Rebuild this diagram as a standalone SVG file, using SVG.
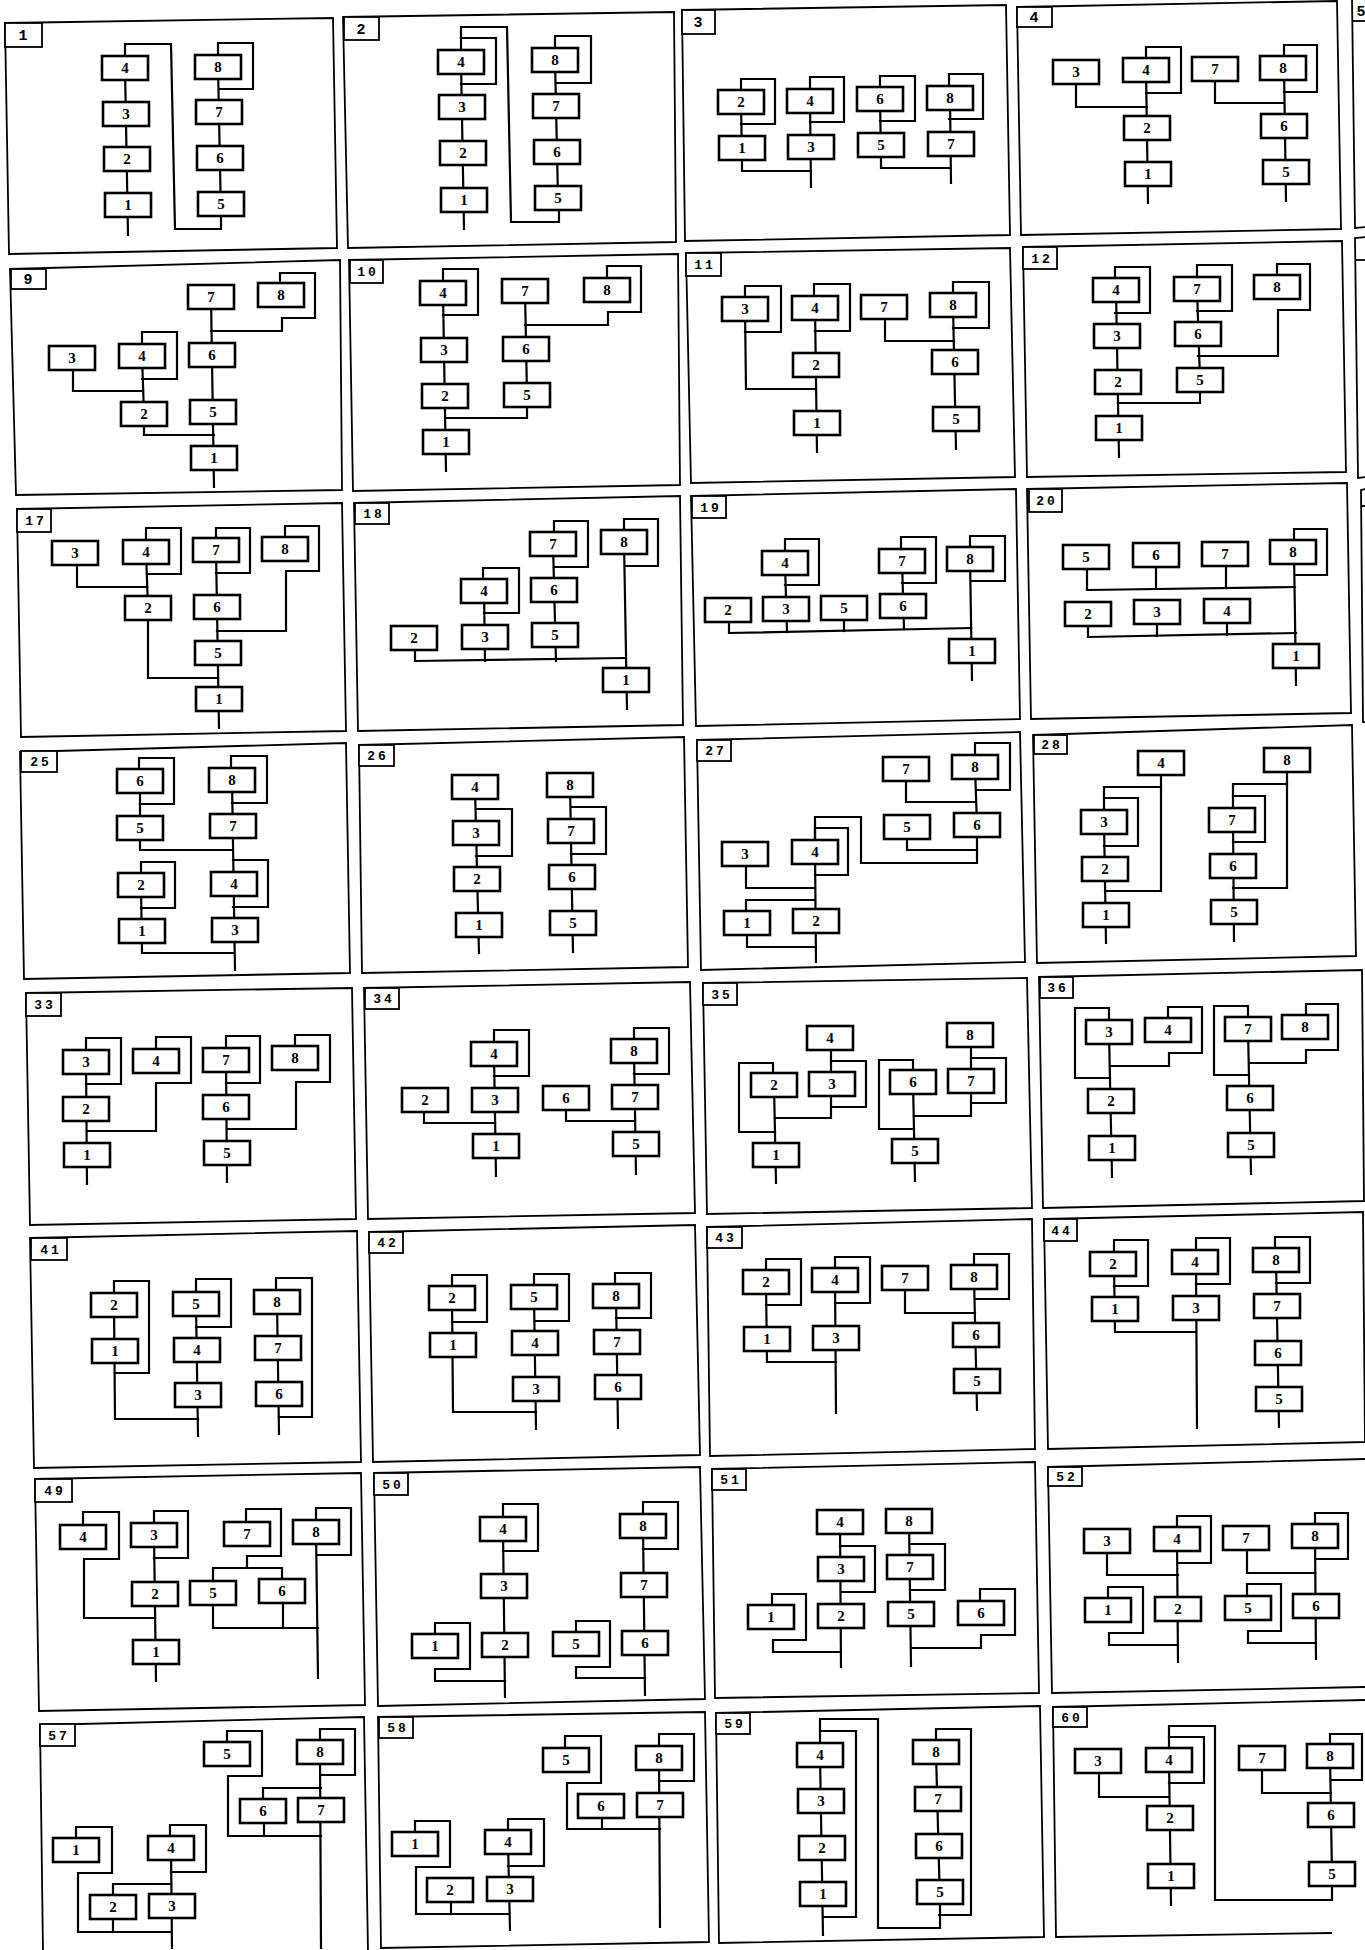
<svg xmlns="http://www.w3.org/2000/svg" xmlns:xlink="http://www.w3.org/1999/xlink" width="1365" height="1950" viewBox="0 0 1365 1950">
<style>
.fr{fill:none;stroke:#000;stroke-width:1.8;stroke-linejoin:miter}
.lb{fill:#fff;stroke:#000;stroke-width:1.8}
.lt{font-family:"Liberation Mono","DejaVu Sans Mono",monospace;font-size:15px;font-weight:bold;text-anchor:middle}
.lt2{font-family:"Liberation Mono","DejaVu Sans Mono",monospace;font-size:13px;font-weight:bold;letter-spacing:3px;text-anchor:middle}
.cn path{fill:none;stroke:#000;stroke-width:2.2;stroke-linejoin:miter;stroke-linecap:square}
.bx{fill:#fff;stroke:#000;stroke-width:2.6}
.nd text{font-family:"Liberation Serif","Times New Roman",serif;font-size:15px;font-weight:bold;text-anchor:middle}
</style>
<defs>
<rect id="bx" class="bx" width="46" height="24"/>
</defs>
<rect x="0" y="0" width="1365" height="1950" fill="#fff"/>

<!-- Panel 1 -->
<g id="panel-1">
<polygon class="fr" points="5,23 333,18 337,248 9,254"/>
<g id="p1-label"><rect class="lb" x="5" y="23" width="37" height="24"/><text class="lt" x="23" y="40">1</text></g>
<g id="p1-links" class="cn">
<path d="M125,68 L128,235"/><path d="M125,56 V44 H171 L175,229 H221 V216"/><path d="M218,67 L221,216"/><path d="M218,55 V43 H253 V89 H219"/>
</g>
<g id="p1-n4" class="nd"><use href="#bx" x="102" y="56"/><text x="125" y="73">4</text></g>
<g id="p1-n3" class="nd"><use href="#bx" x="103" y="102"/><text x="126" y="119">3</text></g>
<g id="p1-n2" class="nd"><use href="#bx" x="104" y="147"/><text x="127" y="164">2</text></g>
<g id="p1-n1" class="nd"><use href="#bx" x="105" y="193"/><text x="128" y="210">1</text></g>
<g id="p1-n8" class="nd"><use href="#bx" x="195" y="55"/><text x="218" y="72">8</text></g>
<g id="p1-n7" class="nd"><use href="#bx" x="196" y="100"/><text x="219" y="117">7</text></g>
<g id="p1-n6" class="nd"><use href="#bx" x="197" y="146"/><text x="220" y="163">6</text></g>
<g id="p1-n5" class="nd"><use href="#bx" x="198" y="192"/><text x="221" y="209">5</text></g>
</g>

<!-- Panel 2 -->
<g id="panel-2">
<polygon class="fr" points="343,17 674,12 676,242 348,248"/>
<g id="p2-label"><rect class="lb" x="344" y="17" width="35" height="23"/><text class="lt" x="361" y="34">2</text></g>
<g id="p2-links" class="cn">
<path d="M461,62 L464,229"/><path d="M461,50 V38 H496 V84 H461"/><path d="M461,38 V27 H507 L511,222 H559 V210"/><path d="M555,60 L558,198"/><path d="M555,48 V36 H591 V83 H556"/>
</g>
<g id="p2-n4" class="nd"><use href="#bx" x="438" y="50"/><text x="461" y="67">4</text></g>
<g id="p2-n3" class="nd"><use href="#bx" x="439" y="95"/><text x="462" y="112">3</text></g>
<g id="p2-n2" class="nd"><use href="#bx" x="440" y="141"/><text x="463" y="158">2</text></g>
<g id="p2-n1" class="nd"><use href="#bx" x="441" y="188"/><text x="464" y="205">1</text></g>
<g id="p2-n8" class="nd"><use href="#bx" x="532" y="48"/><text x="555" y="65">8</text></g>
<g id="p2-n7" class="nd"><use href="#bx" x="533" y="94"/><text x="556" y="111">7</text></g>
<g id="p2-n6" class="nd"><use href="#bx" x="534" y="140"/><text x="557" y="157">6</text></g>
<g id="p2-n5" class="nd"><use href="#bx" x="535" y="186"/><text x="558" y="203">5</text></g>
</g>

<!-- Panel 3 -->
<g id="panel-3">
<polygon class="fr" points="682,10 1006,5 1010,235 685,241"/>
<g id="p3-label"><rect class="lb" x="682" y="10" width="33" height="24"/><text class="lt" x="698" y="27">3</text></g>
<g id="p3-links" class="cn">
<path d="M741,90 V79 H775 V124 H741"/><path d="M741,102 L742,160 V171 H811"/><path d="M810,89 V77 H844 V122 H810"/><path d="M810,101 L811,187"/>
<path d="M880,87 V76 H915 V121 H880"/><path d="M880,99 L881,157 V168 H950"/><path d="M949,86 V74 H983 V119 H949"/><path d="M950,98 L951,183"/>
</g>
<g id="p3-n2" class="nd"><use href="#bx" x="718" y="90"/><text x="741" y="107">2</text></g>
<g id="p3-n4" class="nd"><use href="#bx" x="787" y="89"/><text x="810" y="106">4</text></g>
<g id="p3-n6" class="nd"><use href="#bx" x="857" y="87"/><text x="880" y="104">6</text></g>
<g id="p3-n8" class="nd"><use href="#bx" x="927" y="86"/><text x="950" y="103">8</text></g>
<g id="p3-n1" class="nd"><use href="#bx" x="719" y="136"/><text x="742" y="153">1</text></g>
<g id="p3-n3" class="nd"><use href="#bx" x="788" y="135"/><text x="811" y="152">3</text></g>
<g id="p3-n5" class="nd"><use href="#bx" x="858" y="133"/><text x="881" y="150">5</text></g>
<g id="p3-n7" class="nd"><use href="#bx" x="928" y="132"/><text x="951" y="149">7</text></g>
</g>

<!-- Panel 4 -->
<g id="panel-4">
<polygon class="fr" points="1017,7 1337,1 1341,229 1021,235"/>
<g id="p4-label"><rect class="lb" x="1017" y="7" width="35" height="20"/><text class="lt" x="1034" y="22">4</text></g>
<g id="p4-links" class="cn">
<path d="M1076,84 V107 H1147"/><path d="M1146,58 V47 H1181 V93 H1146"/><path d="M1146,70 L1148,203"/>
<path d="M1215,81 V103 H1284"/><path d="M1284,56 V45 H1317 V92 H1284"/><path d="M1284,68 L1286,201"/>
</g>
<g id="p4-n3" class="nd"><use href="#bx" x="1053" y="60"/><text x="1076" y="77">3</text></g>
<g id="p4-n4" class="nd"><use href="#bx" x="1123" y="58"/><text x="1146" y="75">4</text></g>
<g id="p4-n7" class="nd"><use href="#bx" x="1192" y="57"/><text x="1215" y="74">7</text></g>
<g id="p4-n8" class="nd"><use href="#bx" x="1260" y="56"/><text x="1283" y="73">8</text></g>
<g id="p4-n2" class="nd"><use href="#bx" x="1124" y="116"/><text x="1147" y="133">2</text></g>
<g id="p4-n6" class="nd"><use href="#bx" x="1261" y="114"/><text x="1284" y="131">6</text></g>
<g id="p4-n1" class="nd"><use href="#bx" x="1125" y="162"/><text x="1148" y="179">1</text></g>
<g id="p4-n5" class="nd"><use href="#bx" x="1263" y="160"/><text x="1286" y="177">5</text></g>
</g>

<!-- Right column partial panels -->
<g id="panel-5">
<polyline class="fr" points="1352,-2 1355,228 1366,227"/>
<line class="fr" x1="1352" y1="21" x2="1366" y2="21"/>
<text class="lt" x="1361" y="16">5</text>
</g>
<g id="panel-13">
<polyline class="fr" points="1366,237 1355,238 1358,478 1366,477"/>
<line class="fr" x1="1355" y1="260" x2="1366" y2="260"/>
</g>
<g id="panel-21">
<polyline class="fr" points="1366,489 1361,490 1363,722 1366,722"/>
<line class="fr" x1="1361" y1="506" x2="1366" y2="506"/>
</g>

<!-- Panel 9 -->
<g id="panel-9">
<polygon class="fr" points="10,269 340,260 342,490 16,495"/>
<g id="p9-label"><rect class="lb" x="11" y="269" width="35" height="20"/><text class="lt" x="28" y="284">9</text></g>
<g id="p9-links" class="cn">
<path d="M211,297 L214,487"/><path d="M280,283 V273 H315 V318 H282 V331 H211"/><path d="M73,370 V391 H143"/><path d="M142,344 V332 H177 V379 H142"/><path d="M142,356 L144,414 V435 H214"/>
</g>
<g id="p9-n7" class="nd"><use href="#bx" x="188" y="285"/><text x="211" y="302">7</text></g>
<g id="p9-n8" class="nd"><use href="#bx" x="258" y="283"/><text x="281" y="300">8</text></g>
<g id="p9-n3" class="nd"><use href="#bx" x="49" y="346"/><text x="72" y="363">3</text></g>
<g id="p9-n4" class="nd"><use href="#bx" x="119" y="344"/><text x="142" y="361">4</text></g>
<g id="p9-n6" class="nd"><use href="#bx" x="189" y="343"/><text x="212" y="360">6</text></g>
<g id="p9-n2" class="nd"><use href="#bx" x="121" y="402"/><text x="144" y="419">2</text></g>
<g id="p9-n5" class="nd"><use href="#bx" x="190" y="400"/><text x="213" y="417">5</text></g>
<g id="p9-n1" class="nd"><use href="#bx" x="191" y="446"/><text x="214" y="463">1</text></g>
</g>

<!-- Panel 10 -->
<g id="panel-10">
<polygon class="fr" points="349,260 678,254 680,485 353,491"/>
<g id="p10-label"><rect class="lb" x="350" y="260" width="33" height="23"/><text class="lt2" x="368" y="276">10</text></g>
<g id="p10-links" class="cn">
<path d="M443,281 V269 H478 V315 H443"/><path d="M443,293 L446,471"/><path d="M445,418 H527 V407"/><path d="M525,291 L527,395"/><path d="M607,278 V266 H641 V312 H608 V325 H525"/>
</g>
<g id="p10-n4" class="nd"><use href="#bx" x="420" y="281"/><text x="443" y="298">4</text></g>
<g id="p10-n7" class="nd"><use href="#bx" x="502" y="279"/><text x="525" y="296">7</text></g>
<g id="p10-n8" class="nd"><use href="#bx" x="584" y="278"/><text x="607" y="295">8</text></g>
<g id="p10-n3" class="nd"><use href="#bx" x="421" y="338"/><text x="444" y="355">3</text></g>
<g id="p10-n6" class="nd"><use href="#bx" x="503" y="337"/><text x="526" y="354">6</text></g>
<g id="p10-n2" class="nd"><use href="#bx" x="422" y="384"/><text x="445" y="401">2</text></g>
<g id="p10-n5" class="nd"><use href="#bx" x="504" y="383"/><text x="527" y="400">5</text></g>
<g id="p10-n1" class="nd"><use href="#bx" x="423" y="430"/><text x="446" y="447">1</text></g>
</g>

<!-- Panel 11 -->
<g id="panel-11">
<polygon class="fr" points="686,253 1010,248 1015,477 691,483"/>
<g id="p11-label"><rect class="lb" x="686" y="253" width="35" height="23"/><text class="lt2" x="705" y="269">11</text></g>
<g id="p11-links" class="cn">
<path d="M745,297 V286 H781 V332 H745"/><path d="M745,309 L746,389 H816"/><path d="M814,296 V284 H850 V331 H815"/><path d="M815,308 L817,452"/>
<path d="M885,319 V341 H954"/><path d="M953,293 V282 H989 V328 H953"/><path d="M953,305 L956,449"/>
</g>
<g id="p11-n3" class="nd"><use href="#bx" x="722" y="297"/><text x="745" y="314">3</text></g>
<g id="p11-n4" class="nd"><use href="#bx" x="792" y="296"/><text x="815" y="313">4</text></g>
<g id="p11-n7" class="nd"><use href="#bx" x="861" y="295"/><text x="884" y="312">7</text></g>
<g id="p11-n8" class="nd"><use href="#bx" x="930" y="293"/><text x="953" y="310">8</text></g>
<g id="p11-n2" class="nd"><use href="#bx" x="793" y="353"/><text x="816" y="370">2</text></g>
<g id="p11-n6" class="nd"><use href="#bx" x="932" y="350"/><text x="955" y="367">6</text></g>
<g id="p11-n1" class="nd"><use href="#bx" x="794" y="411"/><text x="817" y="428">1</text></g>
<g id="p11-n5" class="nd"><use href="#bx" x="933" y="407"/><text x="956" y="424">5</text></g>
</g>

<!-- Panel 12 -->
<g id="panel-12">
<polygon class="fr" points="1023,247 1342,241 1346,472 1027,477"/>
<g id="p12-label"><rect class="lb" x="1023" y="247" width="34" height="22"/><text class="lt2" x="1042" y="263">12</text></g>
<g id="p12-links" class="cn">
<path d="M1115,278 V267 H1150 V313 H1115"/><path d="M1116,290 L1119,457"/><path d="M1118,403 H1200 V392"/>
<path d="M1197,277 V265 H1232 V311 H1197"/><path d="M1197,289 L1200,380"/><path d="M1277,275 V264 H1310 V310 H1278 V356 H1198"/>
</g>
<g id="p12-n4" class="nd"><use href="#bx" x="1093" y="278"/><text x="1116" y="295">4</text></g>
<g id="p12-n7" class="nd"><use href="#bx" x="1174" y="277"/><text x="1197" y="294">7</text></g>
<g id="p12-n8" class="nd"><use href="#bx" x="1254" y="275"/><text x="1277" y="292">8</text></g>
<g id="p12-n3" class="nd"><use href="#bx" x="1094" y="324"/><text x="1117" y="341">3</text></g>
<g id="p12-n6" class="nd"><use href="#bx" x="1175" y="322"/><text x="1198" y="339">6</text></g>
<g id="p12-n2" class="nd"><use href="#bx" x="1095" y="370"/><text x="1118" y="387">2</text></g>
<g id="p12-n5" class="nd"><use href="#bx" x="1177" y="368"/><text x="1200" y="385">5</text></g>
<g id="p12-n1" class="nd"><use href="#bx" x="1096" y="416"/><text x="1119" y="433">1</text></g>
</g>

<!-- Panel 17 -->
<g id="panel-17">
<polygon class="fr" points="17,509 342,503 346,731 21,737"/>
<g id="p17-label"><rect class="lb" x="17" y="509" width="34" height="23"/><text class="lt2" x="36" y="525">17</text></g>
<g id="p17-links" class="cn">
<path d="M77,565 V587 H147"/><path d="M146,540 V528 H181 V574 H147"/><path d="M146,552 L148,608 V678 H218"/>
<path d="M216,538 V528 H250 V573 H216"/><path d="M216,550 L219,728"/><path d="M285,537 V526 H319 V571 H286 V631 H217"/>
</g>
<g id="p17-n3" class="nd"><use href="#bx" x="52" y="541"/><text x="75" y="558">3</text></g>
<g id="p17-n4" class="nd"><use href="#bx" x="123" y="540"/><text x="146" y="557">4</text></g>
<g id="p17-n7" class="nd"><use href="#bx" x="193" y="538"/><text x="216" y="555">7</text></g>
<g id="p17-n8" class="nd"><use href="#bx" x="262" y="537"/><text x="285" y="554">8</text></g>
<g id="p17-n2" class="nd"><use href="#bx" x="125" y="596"/><text x="148" y="613">2</text></g>
<g id="p17-n6" class="nd"><use href="#bx" x="194" y="595"/><text x="217" y="612">6</text></g>
<g id="p17-n5" class="nd"><use href="#bx" x="195" y="641"/><text x="218" y="658">5</text></g>
<g id="p17-n1" class="nd"><use href="#bx" x="196" y="687"/><text x="219" y="704">1</text></g>
</g>

<!-- Panel 18 -->
<g id="panel-18">
<polygon class="fr" points="354,503 680,496 683,725 358,731"/>
<g id="p18-label"><rect class="lb" x="355" y="503" width="34" height="21"/><text class="lt2" x="374" y="518">18</text></g>
<g id="p18-links" class="cn">
<path d="M554,532 V521 H588 V567 H554"/><path d="M553,544 L556,661"/><path d="M483,579 V568 H519 V613 H484"/><path d="M484,591 L485,661"/>
<path d="M624,530 V519 H658 V566 H625"/><path d="M624,542 L627,709"/><path d="M415,650 V661 L625,658"/>
</g>
<g id="p18-n7" class="nd"><use href="#bx" x="530" y="532"/><text x="553" y="549">7</text></g>
<g id="p18-n8" class="nd"><use href="#bx" x="601" y="530"/><text x="624" y="547">8</text></g>
<g id="p18-n4" class="nd"><use href="#bx" x="461" y="579"/><text x="484" y="596">4</text></g>
<g id="p18-n6" class="nd"><use href="#bx" x="531" y="578"/><text x="554" y="595">6</text></g>
<g id="p18-n2" class="nd"><use href="#bx" x="391" y="626"/><text x="414" y="643">2</text></g>
<g id="p18-n3" class="nd"><use href="#bx" x="462" y="625"/><text x="485" y="642">3</text></g>
<g id="p18-n5" class="nd"><use href="#bx" x="532" y="623"/><text x="555" y="640">5</text></g>
<g id="p18-n1" class="nd"><use href="#bx" x="603" y="668"/><text x="626" y="685">1</text></g>
</g>

<!-- Panel 19 -->
<g id="panel-19">
<polygon class="fr" points="691,496 1016,489 1020,719 696,726"/>
<g id="p19-label"><rect class="lb" x="692" y="496" width="34" height="22"/><text class="lt2" x="711" y="512">19</text></g>
<g id="p19-links" class="cn">
<path d="M785,551 V539 H819 V585 H785"/><path d="M785,563 L787,632"/><path d="M901,549 V537 H936 V583 H902"/><path d="M902,561 L904,629"/>
<path d="M970,547 V536 H1005 V581 H971"/><path d="M970,559 L972,680"/><path d="M729,622 V633 L971,628"/><path d="M844,620 V631"/>
</g>
<g id="p19-n4" class="nd"><use href="#bx" x="762" y="551"/><text x="785" y="568">4</text></g>
<g id="p19-n7" class="nd"><use href="#bx" x="879" y="549"/><text x="902" y="566">7</text></g>
<g id="p19-n8" class="nd"><use href="#bx" x="947" y="547"/><text x="970" y="564">8</text></g>
<g id="p19-n2" class="nd"><use href="#bx" x="705" y="598"/><text x="728" y="615">2</text></g>
<g id="p19-n3" class="nd"><use href="#bx" x="763" y="597"/><text x="786" y="614">3</text></g>
<g id="p19-n5" class="nd"><use href="#bx" x="821" y="596"/><text x="844" y="613">5</text></g>
<g id="p19-n6" class="nd"><use href="#bx" x="880" y="594"/><text x="903" y="611">6</text></g>
<g id="p19-n1" class="nd"><use href="#bx" x="949" y="639"/><text x="972" y="656">1</text></g>
</g>

<!-- Panel 20 -->
<g id="panel-20">
<polygon class="fr" points="1027,489 1347,483 1351,713 1031,719"/>
<g id="p20-label"><rect class="lb" x="1029" y="489" width="33" height="23"/><text class="lt2" x="1047" y="505">20</text></g>
<g id="p20-links" class="cn">
<path d="M1294,540 V529 H1327 V575 H1295"/><path d="M1294,552 L1296,685"/><path d="M1087,569 V590 L1295,587"/><path d="M1156,567 V589"/><path d="M1226,566 V588"/>
<path d="M1088,626 V637 L1296,633"/><path d="M1157,624 V636"/><path d="M1227,623 V635"/>
</g>
<g id="p20-n5" class="nd"><use href="#bx" x="1063" y="545"/><text x="1086" y="562">5</text></g>
<g id="p20-n6" class="nd"><use href="#bx" x="1133" y="543"/><text x="1156" y="560">6</text></g>
<g id="p20-n7" class="nd"><use href="#bx" x="1202" y="542"/><text x="1225" y="559">7</text></g>
<g id="p20-n8" class="nd"><use href="#bx" x="1270" y="540"/><text x="1293" y="557">8</text></g>
<g id="p20-n2" class="nd"><use href="#bx" x="1065" y="602"/><text x="1088" y="619">2</text></g>
<g id="p20-n3" class="nd"><use href="#bx" x="1134" y="600"/><text x="1157" y="617">3</text></g>
<g id="p20-n4" class="nd"><use href="#bx" x="1204" y="599"/><text x="1227" y="616">4</text></g>
<g id="p20-n1" class="nd"><use href="#bx" x="1273" y="644"/><text x="1296" y="661">1</text></g>
</g>

<!-- Panel 25 -->
<g id="panel-25">
<polygon class="fr" points="20,752 346,743 350,973 24,979"/>
<g id="p25-label"><rect class="lb" x="21" y="751" width="36" height="21"/><text class="lt2" x="41" y="766">25</text></g>
<g id="p25-links" class="cn">
<path d="M139,769 V758 H174 V804 H140"/><path d="M140,781 V850 H232"/><path d="M231,768 V756 H267 V803 H232"/><path d="M232,780 L235,970"/>
<path d="M233,860 H268 V907 H233"/><path d="M141,873 V862 H175 V908 H141"/><path d="M141,885 L142,953 H234"/>
</g>
<g id="p25-n6" class="nd"><use href="#bx" x="117" y="769"/><text x="140" y="786">6</text></g>
<g id="p25-n8" class="nd"><use href="#bx" x="209" y="768"/><text x="232" y="785">8</text></g>
<g id="p25-n5" class="nd"><use href="#bx" x="117" y="816"/><text x="140" y="833">5</text></g>
<g id="p25-n7" class="nd"><use href="#bx" x="210" y="814"/><text x="233" y="831">7</text></g>
<g id="p25-n2" class="nd"><use href="#bx" x="118" y="873"/><text x="141" y="890">2</text></g>
<g id="p25-n4" class="nd"><use href="#bx" x="211" y="872"/><text x="234" y="889">4</text></g>
<g id="p25-n1" class="nd"><use href="#bx" x="119" y="919"/><text x="142" y="936">1</text></g>
<g id="p25-n3" class="nd"><use href="#bx" x="212" y="918"/><text x="235" y="935">3</text></g>
</g>

<!-- Panel 26 -->
<g id="panel-26">
<polygon class="fr" points="359,745 684,737 688,967 362,973"/>
<g id="p26-label"><rect class="lb" x="359" y="745" width="35" height="21"/><text class="lt2" x="378" y="760">26</text></g>
<g id="p26-links" class="cn">
<path d="M475,787 L479,953"/><path d="M476,809 H512 V856 H476"/><path d="M570,785 L573,952"/><path d="M571,807 H606 V854 H571"/>
</g>
<g id="p26-n4" class="nd"><use href="#bx" x="452" y="775"/><text x="475" y="792">4</text></g>
<g id="p26-n8" class="nd"><use href="#bx" x="547" y="773"/><text x="570" y="790">8</text></g>
<g id="p26-n3" class="nd"><use href="#bx" x="453" y="821"/><text x="476" y="838">3</text></g>
<g id="p26-n7" class="nd"><use href="#bx" x="548" y="819"/><text x="571" y="836">7</text></g>
<g id="p26-n2" class="nd"><use href="#bx" x="454" y="867"/><text x="477" y="884">2</text></g>
<g id="p26-n6" class="nd"><use href="#bx" x="549" y="865"/><text x="572" y="882">6</text></g>
<g id="p26-n1" class="nd"><use href="#bx" x="456" y="913"/><text x="479" y="930">1</text></g>
<g id="p26-n5" class="nd"><use href="#bx" x="550" y="911"/><text x="573" y="928">5</text></g>
</g>

<!-- Panel 27 -->
<g id="panel-27">
<polygon class="fr" points="697,740 1020,732 1025,962 701,970"/>
<g id="p27-label"><rect class="lb" x="697" y="740" width="34" height="21"/><text class="lt2" x="716" y="755">27</text></g>
<g id="p27-links" class="cn">
<path d="M975,755 V743 H1010 V790 H976"/><path d="M975,767 L977,825"/><path d="M906,781 V802 H976"/><path d="M907,839 V850 H977"/>
<path d="M977,837 V863 H861 V817 H815 V852"/><path d="M815,840 V828 H848 V875 H815"/><path d="M815,852 L816,962"/>
<path d="M746,866 V888 H815"/><path d="M746,911 V900 H815"/><path d="M747,935 V947 H816"/>
</g>
<g id="p27-n7" class="nd"><use href="#bx" x="883" y="757"/><text x="906" y="774">7</text></g>
<g id="p27-n8" class="nd"><use href="#bx" x="952" y="755"/><text x="975" y="772">8</text></g>
<g id="p27-n5" class="nd"><use href="#bx" x="884" y="815"/><text x="907" y="832">5</text></g>
<g id="p27-n6" class="nd"><use href="#bx" x="954" y="813"/><text x="977" y="830">6</text></g>
<g id="p27-n3" class="nd"><use href="#bx" x="722" y="842"/><text x="745" y="859">3</text></g>
<g id="p27-n4" class="nd"><use href="#bx" x="792" y="840"/><text x="815" y="857">4</text></g>
<g id="p27-n1" class="nd"><use href="#bx" x="724" y="911"/><text x="747" y="928">1</text></g>
<g id="p27-n2" class="nd"><use href="#bx" x="793" y="909"/><text x="816" y="926">2</text></g>
</g>

<!-- Panel 28 -->
<g id="panel-28">
<polygon class="fr" points="1033,735 1352,725 1356,956 1037,963"/>
<g id="p28-label"><rect class="lb" x="1034" y="735" width="33" height="19"/><text class="lt2" x="1052" y="749">28</text></g>
<g id="p28-links" class="cn">
<path d="M1161,775 V891 H1105"/><path d="M1161,787 H1104 V822"/><path d="M1104,798 H1138 V846 H1104"/><path d="M1104,822 L1106,943"/>
<path d="M1287,772 V888 H1233"/><path d="M1287,784 H1233 V820"/><path d="M1233,796 H1265 V842 H1233"/><path d="M1233,820 L1234,941"/>
</g>
<g id="p28-n4" class="nd"><use href="#bx" x="1138" y="751"/><text x="1161" y="768">4</text></g>
<g id="p28-n8" class="nd"><use href="#bx" x="1264" y="748"/><text x="1287" y="765">8</text></g>
<g id="p28-n3" class="nd"><use href="#bx" x="1081" y="810"/><text x="1104" y="827">3</text></g>
<g id="p28-n7" class="nd"><use href="#bx" x="1209" y="808"/><text x="1232" y="825">7</text></g>
<g id="p28-n2" class="nd"><use href="#bx" x="1082" y="857"/><text x="1105" y="874">2</text></g>
<g id="p28-n6" class="nd"><use href="#bx" x="1210" y="854"/><text x="1233" y="871">6</text></g>
<g id="p28-n1" class="nd"><use href="#bx" x="1083" y="903"/><text x="1106" y="920">1</text></g>
<g id="p28-n5" class="nd"><use href="#bx" x="1211" y="900"/><text x="1234" y="917">5</text></g>
</g>

<!-- Panel 33 -->
<g id="panel-33">
<polygon class="fr" points="26,993 352,988 356,1219 30,1225"/>
<g id="p33-label"><rect class="lb" x="26" y="993" width="35" height="23"/><text class="lt2" x="45" y="1009">33</text></g>
<g id="p33-links" class="cn">
<path d="M86,1050 V1038 H121 V1084 H86"/><path d="M86,1062 L87,1184"/><path d="M156,1049 V1037 H191 V1083 H156 V1131 H87"/>
<path d="M226,1048 V1036 H260 V1083 H226"/><path d="M226,1060 L227,1182"/><path d="M295,1046 V1035 H330 V1082 H296 V1129 H227"/>
</g>
<g id="p33-n3" class="nd"><use href="#bx" x="63" y="1050"/><text x="86" y="1067">3</text></g>
<g id="p33-n4" class="nd"><use href="#bx" x="133" y="1049"/><text x="156" y="1066">4</text></g>
<g id="p33-n7" class="nd"><use href="#bx" x="203" y="1048"/><text x="226" y="1065">7</text></g>
<g id="p33-n8" class="nd"><use href="#bx" x="272" y="1046"/><text x="295" y="1063">8</text></g>
<g id="p33-n2" class="nd"><use href="#bx" x="63" y="1097"/><text x="86" y="1114">2</text></g>
<g id="p33-n6" class="nd"><use href="#bx" x="203" y="1095"/><text x="226" y="1112">6</text></g>
<g id="p33-n1" class="nd"><use href="#bx" x="64" y="1143"/><text x="87" y="1160">1</text></g>
<g id="p33-n5" class="nd"><use href="#bx" x="204" y="1141"/><text x="227" y="1158">5</text></g>
</g>

<!-- Panel 34 -->
<g id="panel-34">
<polygon class="fr" points="364,988 690,982 695,1213 368,1219"/>
<g id="p34-label"><rect class="lb" x="365" y="988" width="34" height="21"/><text class="lt2" x="384" y="1003">34</text></g>
<g id="p34-links" class="cn">
<path d="M494,1042 V1030 H529 V1076 H494"/><path d="M494,1054 L496,1176"/><path d="M424,1112 V1123 H495"/>
<path d="M634,1039 V1028 H669 V1074 H634"/><path d="M634,1051 L636,1174"/><path d="M566,1110 V1121 H635"/>
</g>
<g id="p34-n4" class="nd"><use href="#bx" x="471" y="1042"/><text x="494" y="1059">4</text></g>
<g id="p34-n8" class="nd"><use href="#bx" x="611" y="1039"/><text x="634" y="1056">8</text></g>
<g id="p34-n2" class="nd"><use href="#bx" x="402" y="1088"/><text x="425" y="1105">2</text></g>
<g id="p34-n3" class="nd"><use href="#bx" x="472" y="1088"/><text x="495" y="1105">3</text></g>
<g id="p34-n6" class="nd"><use href="#bx" x="543" y="1086"/><text x="566" y="1103">6</text></g>
<g id="p34-n7" class="nd"><use href="#bx" x="612" y="1085"/><text x="635" y="1102">7</text></g>
<g id="p34-n1" class="nd"><use href="#bx" x="473" y="1134"/><text x="496" y="1151">1</text></g>
<g id="p34-n5" class="nd"><use href="#bx" x="613" y="1132"/><text x="636" y="1149">5</text></g>
</g>

<!-- Panel 35 -->
<g id="panel-35">
<polygon class="fr" points="703,983 1027,978 1032,1208 707,1214"/>
<g id="p35-label"><rect class="lb" x="703" y="983" width="34" height="22"/><text class="lt2" x="722" y="999">35</text></g>
<g id="p35-links" class="cn">
<path d="M831,1038 V1118 H775"/><path d="M831,1061 H866 V1107 H832"/><path d="M773,1073 V1063 H739 V1132 H775"/><path d="M774,1085 L776,1183"/>
<path d="M971,1035 V1116 H914"/><path d="M971,1058 H1006 V1103 H972"/><path d="M913,1070 V1060 H879 V1129 H914"/><path d="M913,1082 L915,1181"/>
</g>
<g id="p35-n4" class="nd"><use href="#bx" x="807" y="1026"/><text x="830" y="1043">4</text></g>
<g id="p35-n8" class="nd"><use href="#bx" x="947" y="1023"/><text x="970" y="1040">8</text></g>
<g id="p35-n2" class="nd"><use href="#bx" x="751" y="1073"/><text x="774" y="1090">2</text></g>
<g id="p35-n3" class="nd"><use href="#bx" x="809" y="1072"/><text x="832" y="1089">3</text></g>
<g id="p35-n6" class="nd"><use href="#bx" x="890" y="1070"/><text x="913" y="1087">6</text></g>
<g id="p35-n7" class="nd"><use href="#bx" x="948" y="1069"/><text x="971" y="1086">7</text></g>
<g id="p35-n1" class="nd"><use href="#bx" x="753" y="1143"/><text x="776" y="1160">1</text></g>
<g id="p35-n5" class="nd"><use href="#bx" x="892" y="1139"/><text x="915" y="1156">5</text></g>
</g>

<!-- Panel 36 -->
<g id="panel-36">
<polygon class="fr" points="1039,977 1362,970 1364,1201 1043,1208"/>
<g id="p36-label"><rect class="lb" x="1040" y="977" width="33" height="21"/><text class="lt2" x="1058" y="992">36</text></g>
<g id="p36-links" class="cn">
<path d="M1109,1020 V1008 H1075 V1078 H1110"/><path d="M1109,1032 L1112,1177"/><path d="M1168,1018 V1007 H1202 V1053 H1169 V1066 H1110"/>
<path d="M1248,1017 V1006 H1214 V1075 H1249"/><path d="M1248,1029 L1251,1174"/><path d="M1306,1015 V1004 H1338 V1050 H1306 V1063 H1250"/>
</g>
<g id="p36-n3" class="nd"><use href="#bx" x="1086" y="1020"/><text x="1109" y="1037">3</text></g>
<g id="p36-n4" class="nd"><use href="#bx" x="1145" y="1018"/><text x="1168" y="1035">4</text></g>
<g id="p36-n7" class="nd"><use href="#bx" x="1225" y="1017"/><text x="1248" y="1034">7</text></g>
<g id="p36-n8" class="nd"><use href="#bx" x="1282" y="1015"/><text x="1305" y="1032">8</text></g>
<g id="p36-n2" class="nd"><use href="#bx" x="1088" y="1089"/><text x="1111" y="1106">2</text></g>
<g id="p36-n6" class="nd"><use href="#bx" x="1227" y="1086"/><text x="1250" y="1103">6</text></g>
<g id="p36-n1" class="nd"><use href="#bx" x="1089" y="1136"/><text x="1112" y="1153">1</text></g>
<g id="p36-n5" class="nd"><use href="#bx" x="1228" y="1133"/><text x="1251" y="1150">5</text></g>
</g>

<!-- Panel 41 -->
<g id="panel-41">
<polygon class="fr" points="30,1238 357,1231 361,1462 34,1468"/>
<g id="p41-label"><rect class="lb" x="31" y="1238" width="36" height="22"/><text class="lt2" x="51" y="1254">41</text></g>
<g id="p41-links" class="cn">
<path d="M114,1293 V1281 H149 V1373 H115"/><path d="M114,1305 L115,1419 H198"/><path d="M196,1292 V1279 H231 V1327 H196"/><path d="M196,1304 L198,1436"/>
<path d="M276,1290 V1278 H312 V1417 H279"/><path d="M277,1302 L279,1434"/>
</g>
<g id="p41-n2" class="nd"><use href="#bx" x="91" y="1293"/><text x="114" y="1310">2</text></g>
<g id="p41-n5" class="nd"><use href="#bx" x="173" y="1292"/><text x="196" y="1309">5</text></g>
<g id="p41-n8" class="nd"><use href="#bx" x="254" y="1290"/><text x="277" y="1307">8</text></g>
<g id="p41-n1" class="nd"><use href="#bx" x="92" y="1339"/><text x="115" y="1356">1</text></g>
<g id="p41-n4" class="nd"><use href="#bx" x="174" y="1338"/><text x="197" y="1355">4</text></g>
<g id="p41-n7" class="nd"><use href="#bx" x="255" y="1336"/><text x="278" y="1353">7</text></g>
<g id="p41-n3" class="nd"><use href="#bx" x="175" y="1383"/><text x="198" y="1400">3</text></g>
<g id="p41-n6" class="nd"><use href="#bx" x="256" y="1382"/><text x="279" y="1399">6</text></g>
</g>

<!-- Panel 42 -->
<g id="panel-42">
<polygon class="fr" points="369,1232 695,1225 700,1455 373,1462"/>
<g id="p42-label"><rect class="lb" x="369" y="1232" width="34" height="21"/><text class="lt2" x="388" y="1247">42</text></g>
<g id="p42-links" class="cn">
<path d="M452,1286 V1275 H487 V1322 H452"/><path d="M452,1298 L453,1412 H536"/><path d="M534,1285 V1274 H569 V1321 H535"/><path d="M534,1297 L536,1429"/>
<path d="M615,1284 V1273 H651 V1318 H616"/><path d="M616,1296 L618,1428"/>
</g>
<g id="p42-n2" class="nd"><use href="#bx" x="429" y="1286"/><text x="452" y="1303">2</text></g>
<g id="p42-n5" class="nd"><use href="#bx" x="511" y="1285"/><text x="534" y="1302">5</text></g>
<g id="p42-n8" class="nd"><use href="#bx" x="593" y="1284"/><text x="616" y="1301">8</text></g>
<g id="p42-n1" class="nd"><use href="#bx" x="430" y="1333"/><text x="453" y="1350">1</text></g>
<g id="p42-n4" class="nd"><use href="#bx" x="512" y="1331"/><text x="535" y="1348">4</text></g>
<g id="p42-n7" class="nd"><use href="#bx" x="594" y="1330"/><text x="617" y="1347">7</text></g>
<g id="p42-n3" class="nd"><use href="#bx" x="513" y="1377"/><text x="536" y="1394">3</text></g>
<g id="p42-n6" class="nd"><use href="#bx" x="595" y="1375"/><text x="618" y="1392">6</text></g>
</g>

<!-- Panel 43 -->
<g id="panel-43">
<polygon class="fr" points="707,1227 1032,1219 1035,1449 710,1456"/>
<g id="p43-label"><rect class="lb" x="707" y="1227" width="35" height="21"/><text class="lt2" x="726" y="1242">43</text></g>
<g id="p43-links" class="cn">
<path d="M766,1270 V1259 H801 V1305 H766"/><path d="M766,1282 L767,1362 H836"/><path d="M835,1268 V1257 H870 V1303 H835"/><path d="M835,1280 L836,1413"/>
<path d="M905,1290 V1313 H975"/><path d="M974,1265 V1254 H1009 V1299 H975"/><path d="M974,1277 L977,1410"/>
</g>
<g id="p43-n2" class="nd"><use href="#bx" x="743" y="1270"/><text x="766" y="1287">2</text></g>
<g id="p43-n4" class="nd"><use href="#bx" x="812" y="1268"/><text x="835" y="1285">4</text></g>
<g id="p43-n7" class="nd"><use href="#bx" x="882" y="1266"/><text x="905" y="1283">7</text></g>
<g id="p43-n8" class="nd"><use href="#bx" x="951" y="1265"/><text x="974" y="1282">8</text></g>
<g id="p43-n1" class="nd"><use href="#bx" x="744" y="1327"/><text x="767" y="1344">1</text></g>
<g id="p43-n3" class="nd"><use href="#bx" x="813" y="1326"/><text x="836" y="1343">3</text></g>
<g id="p43-n6" class="nd"><use href="#bx" x="953" y="1323"/><text x="976" y="1340">6</text></g>
<g id="p43-n5" class="nd"><use href="#bx" x="954" y="1369"/><text x="977" y="1386">5</text></g>
</g>

<!-- Panel 44 -->
<g id="panel-44">
<polygon class="fr" points="1044,1219 1363,1212 1365,1442 1048,1449"/>
<g id="p44-label"><rect class="lb" x="1044" y="1219" width="33" height="22"/><text class="lt2" x="1062" y="1235">44</text></g>
<g id="p44-links" class="cn">
<path d="M1114,1252 V1240 H1148 V1286 H1114"/><path d="M1114,1264 L1115,1332 H1196"/><path d="M1196,1250 V1238 H1230 V1284 H1196"/><path d="M1196,1262 L1197,1428"/>
<path d="M1275,1248 V1237 H1310 V1283 H1276"/><path d="M1276,1260 L1279,1427"/>
</g>
<g id="p44-n2" class="nd"><use href="#bx" x="1090" y="1252"/><text x="1113" y="1269">2</text></g>
<g id="p44-n4" class="nd"><use href="#bx" x="1172" y="1250"/><text x="1195" y="1267">4</text></g>
<g id="p44-n8" class="nd"><use href="#bx" x="1253" y="1248"/><text x="1276" y="1265">8</text></g>
<g id="p44-n1" class="nd"><use href="#bx" x="1092" y="1297"/><text x="1115" y="1314">1</text></g>
<g id="p44-n3" class="nd"><use href="#bx" x="1173" y="1296"/><text x="1196" y="1313">3</text></g>
<g id="p44-n7" class="nd"><use href="#bx" x="1254" y="1294"/><text x="1277" y="1311">7</text></g>
<g id="p44-n6" class="nd"><use href="#bx" x="1255" y="1341"/><text x="1278" y="1358">6</text></g>
<g id="p44-n5" class="nd"><use href="#bx" x="1256" y="1387"/><text x="1279" y="1404">5</text></g>
</g>

<!-- Panel 49 -->
<g id="panel-49">
<polygon class="fr" points="35,1479 361,1473 365,1705 39,1711"/>
<g id="p49-label"><rect class="lb" x="35" y="1479" width="37" height="23"/><text class="lt2" x="55" y="1495">49</text></g>
<g id="p49-links" class="cn">
<path d="M83,1525 V1512 H119 V1559 H84 V1618 H155"/><path d="M154,1523 V1511 H188 V1558 H154"/><path d="M154,1535 L156,1681"/>
<path d="M246,1522 V1509 H281 V1556 H247 V1568"/><path d="M213,1581 V1568 H282 V1579"/><path d="M213,1605 V1628 H318"/><path d="M283,1603 V1628"/>
<path d="M316,1520 V1508 H351 V1555 H318"/><path d="M316,1532 L318,1678"/>
</g>
<g id="p49-n4" class="nd"><use href="#bx" x="60" y="1525"/><text x="83" y="1542">4</text></g>
<g id="p49-n3" class="nd"><use href="#bx" x="131" y="1523"/><text x="154" y="1540">3</text></g>
<g id="p49-n7" class="nd"><use href="#bx" x="224" y="1522"/><text x="247" y="1539">7</text></g>
<g id="p49-n8" class="nd"><use href="#bx" x="293" y="1520"/><text x="316" y="1537">8</text></g>
<g id="p49-n2" class="nd"><use href="#bx" x="132" y="1582"/><text x="155" y="1599">2</text></g>
<g id="p49-n5" class="nd"><use href="#bx" x="190" y="1581"/><text x="213" y="1598">5</text></g>
<g id="p49-n6" class="nd"><use href="#bx" x="259" y="1579"/><text x="282" y="1596">6</text></g>
<g id="p49-n1" class="nd"><use href="#bx" x="133" y="1640"/><text x="156" y="1657">1</text></g>
</g>

<!-- Panel 50 -->
<g id="panel-50">
<polygon class="fr" points="374,1473 700,1467 705,1699 378,1706"/>
<g id="p50-label"><rect class="lb" x="374" y="1473" width="34" height="22"/><text class="lt2" x="393" y="1489">50</text></g>
<g id="p50-links" class="cn">
<path d="M503,1517 V1504 H538 V1551 H503"/><path d="M503,1529 L505,1697"/><path d="M435,1634 V1623 H470 V1669 H435 V1681 H505"/>
<path d="M643,1514 V1502 H678 V1549 H643"/><path d="M643,1526 L645,1695"/><path d="M576,1632 V1621 H610 V1667 H576 V1678 H645"/>
</g>
<g id="p50-n4" class="nd"><use href="#bx" x="480" y="1517"/><text x="503" y="1534">4</text></g>
<g id="p50-n8" class="nd"><use href="#bx" x="620" y="1514"/><text x="643" y="1531">8</text></g>
<g id="p50-n3" class="nd"><use href="#bx" x="481" y="1574"/><text x="504" y="1591">3</text></g>
<g id="p50-n7" class="nd"><use href="#bx" x="621" y="1573"/><text x="644" y="1590">7</text></g>
<g id="p50-n1" class="nd"><use href="#bx" x="412" y="1634"/><text x="435" y="1651">1</text></g>
<g id="p50-n2" class="nd"><use href="#bx" x="482" y="1633"/><text x="505" y="1650">2</text></g>
<g id="p50-n5" class="nd"><use href="#bx" x="553" y="1632"/><text x="576" y="1649">5</text></g>
<g id="p50-n6" class="nd"><use href="#bx" x="622" y="1631"/><text x="645" y="1648">6</text></g>
</g>

<!-- Panel 51 -->
<g id="panel-51">
<polygon class="fr" points="712,1469 1035,1462 1039,1693 715,1698"/>
<g id="p51-label"><rect class="lb" x="712" y="1469" width="34" height="21"/><text class="lt2" x="731" y="1484">51</text></g>
<g id="p51-links" class="cn">
<path d="M840,1522 L841,1667"/><path d="M840,1546 H875 V1592 H841"/><path d="M772,1605 V1594 H806 V1640 H773 V1652 H841"/>
<path d="M909,1521 L911,1666"/><path d="M910,1544 H945 V1590 H910"/><path d="M980,1601 V1589 H1015 V1635 H981 V1648 H911"/>
</g>
<g id="p51-n4" class="nd"><use href="#bx" x="817" y="1510"/><text x="840" y="1527">4</text></g>
<g id="p51-n8" class="nd"><use href="#bx" x="886" y="1509"/><text x="909" y="1526">8</text></g>
<g id="p51-n3" class="nd"><use href="#bx" x="818" y="1557"/><text x="841" y="1574">3</text></g>
<g id="p51-n7" class="nd"><use href="#bx" x="887" y="1555"/><text x="910" y="1572">7</text></g>
<g id="p51-n1" class="nd"><use href="#bx" x="748" y="1605"/><text x="771" y="1622">1</text></g>
<g id="p51-n2" class="nd"><use href="#bx" x="818" y="1604"/><text x="841" y="1621">2</text></g>
<g id="p51-n5" class="nd"><use href="#bx" x="888" y="1602"/><text x="911" y="1619">5</text></g>
<g id="p51-n6" class="nd"><use href="#bx" x="958" y="1601"/><text x="981" y="1618">6</text></g>
</g>

<!-- Panel 52 -->
<g id="panel-52">
<polyline class="fr" points="1366,1459 1048,1467 1052,1693 1366,1687"/>
<g id="p52-label"><rect class="lb" x="1048" y="1467" width="34" height="19"/><text class="lt2" x="1067" y="1481">52</text></g>
<g id="p52-links" class="cn">
<path d="M1107,1553 V1575 H1178"/><path d="M1177,1527 V1516 H1211 V1563 H1178"/><path d="M1177,1539 L1178,1662"/><path d="M1108,1598 V1587 H1143 V1633 H1109 V1645 H1178"/>
<path d="M1247,1550 V1573 H1315"/><path d="M1315,1524 V1513 H1348 V1559 H1316"/><path d="M1315,1536 L1316,1659"/><path d="M1247,1596 V1584 H1281 V1631 H1248 V1643 H1316"/>
</g>
<g id="p52-n3" class="nd"><use href="#bx" x="1084" y="1529"/><text x="1107" y="1546">3</text></g>
<g id="p52-n4" class="nd"><use href="#bx" x="1154" y="1527"/><text x="1177" y="1544">4</text></g>
<g id="p52-n7" class="nd"><use href="#bx" x="1223" y="1526"/><text x="1246" y="1543">7</text></g>
<g id="p52-n8" class="nd"><use href="#bx" x="1292" y="1524"/><text x="1315" y="1541">8</text></g>
<g id="p52-n1" class="nd"><use href="#bx" x="1085" y="1598"/><text x="1108" y="1615">1</text></g>
<g id="p52-n2" class="nd"><use href="#bx" x="1155" y="1597"/><text x="1178" y="1614">2</text></g>
<g id="p52-n5" class="nd"><use href="#bx" x="1225" y="1596"/><text x="1248" y="1613">5</text></g>
<g id="p52-n6" class="nd"><use href="#bx" x="1293" y="1594"/><text x="1316" y="1611">6</text></g>
</g>

<!-- Panel 57 -->
<g id="panel-57">
<polyline class="fr" points="43,1952 40,1725 364,1717 368,1952"/>
<g id="p57-label"><rect class="lb" x="40" y="1724" width="35" height="22"/><text class="lt2" x="59" y="1740">57</text></g>
<g id="p57-links" class="cn">
<path d="M227,1742 V1731 H262 V1776 H228 V1836 H321"/><path d="M320,1740 V1729 H355 V1775 H321"/><path d="M320,1752 L321,1948"/><path d="M263,1800 V1788 H321"/><path d="M264,1823 V1836"/>
<path d="M76,1838 V1827 H112 V1873 H78 V1932 H171"/><path d="M170,1836 V1825 H206 V1872 H171"/><path d="M171,1848 L172,1948"/><path d="M113,1895 V1884 H171"/><path d="M113,1919 V1932"/>
</g>
<g id="p57-n5" class="nd"><use href="#bx" x="204" y="1742"/><text x="227" y="1759">5</text></g>
<g id="p57-n8" class="nd"><use href="#bx" x="297" y="1740"/><text x="320" y="1757">8</text></g>
<g id="p57-n6" class="nd"><use href="#bx" x="240" y="1799"/><text x="263" y="1816">6</text></g>
<g id="p57-n7" class="nd"><use href="#bx" x="298" y="1798"/><text x="321" y="1815">7</text></g>
<g id="p57-n1" class="nd"><use href="#bx" x="53" y="1838"/><text x="76" y="1855">1</text></g>
<g id="p57-n4" class="nd"><use href="#bx" x="148" y="1836"/><text x="171" y="1853">4</text></g>
<g id="p57-n2" class="nd"><use href="#bx" x="90" y="1895"/><text x="113" y="1912">2</text></g>
<g id="p57-n3" class="nd"><use href="#bx" x="149" y="1894"/><text x="172" y="1911">3</text></g>
</g>

<!-- Panel 58 -->
<g id="panel-58">
<polygon class="fr" points="378,1717 705,1712 709,1942 381,1948"/>
<g id="p58-label"><rect class="lb" x="379" y="1717" width="34" height="21"/><text class="lt2" x="398" y="1732">58</text></g>
<g id="p58-links" class="cn">
<path d="M565,1748 V1736 H601 V1783 H567 V1829 H660"/><path d="M602,1818 V1829"/><path d="M659,1746 V1734 H694 V1781 H659"/><path d="M659,1758 L660,1927"/>
<path d="M415,1832 V1821 H450 V1867 H416 V1914 H509"/><path d="M451,1902 V1914"/><path d="M508,1830 V1819 H544 V1866 H508"/><path d="M508,1842 L510,1930"/>
</g>
<g id="p58-n5" class="nd"><use href="#bx" x="543" y="1748"/><text x="566" y="1765">5</text></g>
<g id="p58-n8" class="nd"><use href="#bx" x="636" y="1746"/><text x="659" y="1763">8</text></g>
<g id="p58-n6" class="nd"><use href="#bx" x="578" y="1794"/><text x="601" y="1811">6</text></g>
<g id="p58-n7" class="nd"><use href="#bx" x="637" y="1793"/><text x="660" y="1810">7</text></g>
<g id="p58-n1" class="nd"><use href="#bx" x="392" y="1832"/><text x="415" y="1849">1</text></g>
<g id="p58-n4" class="nd"><use href="#bx" x="485" y="1830"/><text x="508" y="1847">4</text></g>
<g id="p58-n2" class="nd"><use href="#bx" x="427" y="1878"/><text x="450" y="1895">2</text></g>
<g id="p58-n3" class="nd"><use href="#bx" x="487" y="1877"/><text x="510" y="1894">3</text></g>
</g>

<!-- Panel 59 -->
<g id="panel-59">
<polygon class="fr" points="716,1713 1040,1706 1044,1937 719,1943"/>
<g id="p59-label"><rect class="lb" x="716" y="1713" width="34" height="21"/><text class="lt2" x="735" y="1728">59</text></g>
<g id="p59-links" class="cn">
<path d="M820,1755 L823,1935"/><path d="M820,1743 V1731 H856 V1917 H823"/><path d="M820,1731 V1719 H878 V1928 H940 V1904"/>
<path d="M936,1752 L940,1904"/><path d="M936,1740 V1729 H971 V1915 H939"/>
</g>
<g id="p59-n4" class="nd"><use href="#bx" x="797" y="1743"/><text x="820" y="1760">4</text></g>
<g id="p59-n3" class="nd"><use href="#bx" x="798" y="1789"/><text x="821" y="1806">3</text></g>
<g id="p59-n2" class="nd"><use href="#bx" x="799" y="1836"/><text x="822" y="1853">2</text></g>
<g id="p59-n1" class="nd"><use href="#bx" x="800" y="1882"/><text x="823" y="1899">1</text></g>
<g id="p59-n8" class="nd"><use href="#bx" x="913" y="1740"/><text x="936" y="1757">8</text></g>
<g id="p59-n7" class="nd"><use href="#bx" x="915" y="1787"/><text x="938" y="1804">7</text></g>
<g id="p59-n6" class="nd"><use href="#bx" x="916" y="1834"/><text x="939" y="1851">6</text></g>
<g id="p59-n5" class="nd"><use href="#bx" x="917" y="1880"/><text x="940" y="1897">5</text></g>
</g>

<!-- Panel 60 -->
<g id="panel-60">
<polyline class="fr" points="1366,1700 1053,1707 1056,1937 1332,1933"/>
<g id="p60-label"><rect class="lb" x="1053" y="1707" width="34" height="20"/><text class="lt2" x="1072" y="1722">60</text></g>
<g id="p60-links" class="cn">
<path d="M1099,1773 V1797 H1169"/><path d="M1169,1748 V1737 H1204 V1783 H1169"/><path d="M1169,1737 V1726 H1215 V1900 H1332 V1886"/><path d="M1169,1760 L1171,1905"/>
<path d="M1262,1770 V1793 H1331"/><path d="M1330,1744 V1734 H1362 V1780 H1331"/><path d="M1330,1756 L1332,1874"/>
</g>
<g id="p60-n3" class="nd"><use href="#bx" x="1075" y="1749"/><text x="1098" y="1766">3</text></g>
<g id="p60-n4" class="nd"><use href="#bx" x="1146" y="1748"/><text x="1169" y="1765">4</text></g>
<g id="p60-n7" class="nd"><use href="#bx" x="1239" y="1746"/><text x="1262" y="1763">7</text></g>
<g id="p60-n8" class="nd"><use href="#bx" x="1307" y="1744"/><text x="1330" y="1761">8</text></g>
<g id="p60-n2" class="nd"><use href="#bx" x="1147" y="1806"/><text x="1170" y="1823">2</text></g>
<g id="p60-n6" class="nd"><use href="#bx" x="1308" y="1803"/><text x="1331" y="1820">6</text></g>
<g id="p60-n1" class="nd"><use href="#bx" x="1148" y="1864"/><text x="1171" y="1881">1</text></g>
<g id="p60-n5" class="nd"><use href="#bx" x="1309" y="1862"/><text x="1332" y="1879">5</text></g>
</g>
</svg>
